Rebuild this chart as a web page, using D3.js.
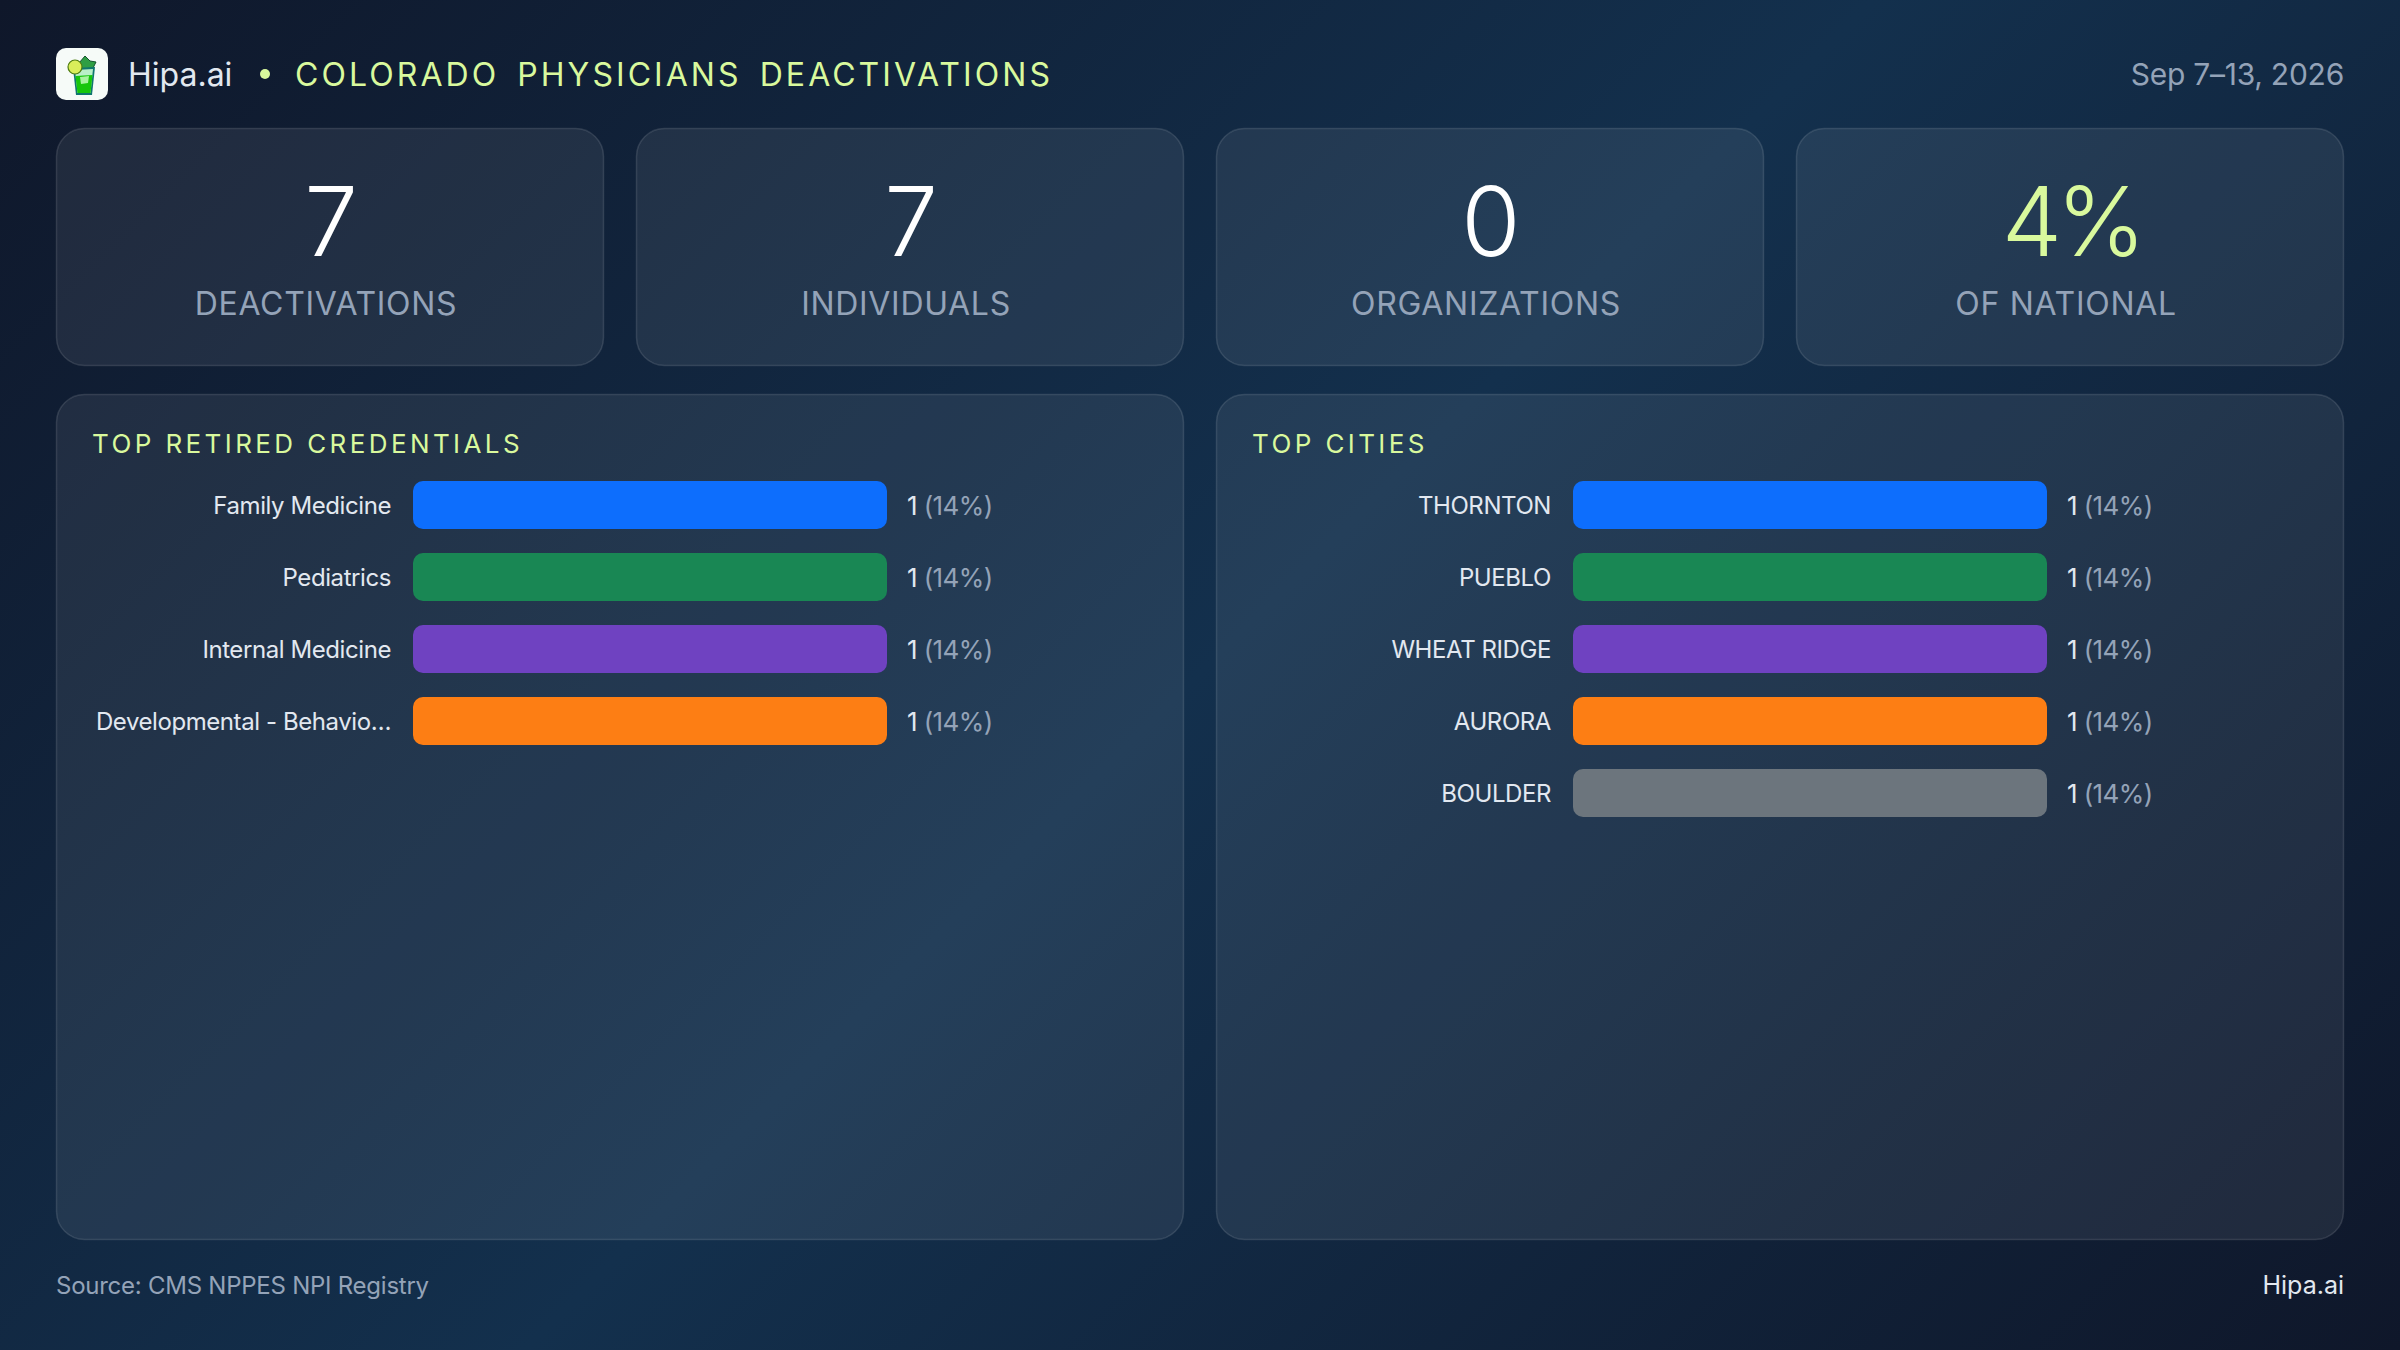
<!DOCTYPE html>
<html>
<head>
<meta charset="utf-8">
<title>Colorado Physicians Deactivations</title>
<script src="https://d3js.org/d3.v7.min.js"></script>
<style>
  html, body { margin:0; padding:0; background:#0f172a; }
  svg { display:block; }
  text { font-family:"Inter","Liberation Sans",sans-serif; }
  .axis path, .axis line { display:none; }
</style>
</head>
<body>
<div id="chart"></div>
<script>
var statValues = ["7", "7", "0", "4%"];
var statLabels = ["DEACTIVATIONS", "INDIVIDUALS", "ORGANIZATIONS", "OF NATIONAL"];

var credentialNames = ["Family Medicine", "Pediatrics", "Internal Medicine", "Developmental - Behavio\u2026"];
var credentialCounts = [1, 1, 1, 1];
var credentialShares = [14, 14, 14, 14];

var cityNames = ["THORNTON", "PUEBLO", "WHEAT RIDGE", "AURORA", "BOULDER"];
var cityCounts = [1, 1, 1, 1, 1];
var cityShares = [14, 14, 14, 14, 14];

var barColours = ["#0d6efd", "#198754", "#6f42c1", "#fd7e14", "#6c757d"];

var W = 2400, H = 1350;
var accent = "#d9f99d", muted = "#94a3b8", light = "#e2e8f0";

var svg = d3.select("#chart").append("svg")
  .attr("width", W)
  .attr("height", H)
  .attr("viewBox", "0 0 " + W + " " + H);

//page background, same as css 135deg
var defs = svg.append("defs");
var grad = defs.append("linearGradient")
  .attr("id", "bg")
  .attr("gradientUnits", "userSpaceOnUse")
  .attr("x1", 262).attr("y1", -262)
  .attr("x2", 2137).attr("y2", 1612);
grad.append("stop").attr("offset", "0%").attr("stop-color", "#0f172a");
grad.append("stop").attr("offset", "50%").attr("stop-color", "#13304d");
grad.append("stop").attr("offset", "100%").attr("stop-color", "#0f172a");

svg.append("rect").attr("width", W).attr("height", H).attr("fill", "url(#bg)");

function box(x, y, w, h) {
  svg.append("rect")
    .attr("x", x + 0.5).attr("y", y + 0.5)
    .attr("width", w - 1).attr("height", h - 1)
    .attr("rx", 28)
    .attr("fill", "rgba(255,255,255,0.075)")
    .attr("stroke", "rgba(255,255,255,0.12)")
    .attr("stroke-width", 1.5);
}

// header
var logo = svg.append("g").attr("transform", "translate(56,48)");
logo.append("rect").attr("width", 52).attr("height", 52).attr("rx", 10).attr("fill", "#f6fbf8");
//mint leaves
logo.append("path").attr("d", "M23 15 L29 8 L34 13 L40 14 L37 20 L25 21 Z").attr("fill", "#2f9e44").attr("stroke", "#14532d").attr("stroke-width", 1);
//glass
logo.append("path").attr("d", "M17 20 L39 19 L36 47 L20 47 Z").attr("fill", "#0f766e");
logo.append("path").attr("d", "M19 22 L37 21 L34.5 45 L21.5 45 Z").attr("fill", "#b9f0c8");
logo.append("path").attr("d", "M19.5 28 L36.5 27 L34.5 45 L21.5 45 Z").attr("fill", "#16c60c");
logo.append("path").attr("d", "M24 29 L33 28 L32 35 L25 36 Z").attr("fill", "#a7f3a0");
//lime slice
logo.append("circle").attr("cx", 19).attr("cy", 19).attr("r", 7).attr("fill", "#d9ee5a").attr("stroke", "#4d7c0f").attr("stroke-width", 1.2);

svg.append("text").attr("x", 128).attr("y", 86)
  .attr("font-size", 32).attr("fill", light).text("Hipa.ai");
svg.append("circle").attr("cx", 265).attr("cy", 74).attr("r", 5).attr("fill", accent);
svg.append("text").attr("x", 295).attr("y", 86)
  .attr("font-size", 32).attr("letter-spacing", 3.06).attr("word-spacing", 6)
  .attr("fill", accent).text("COLORADO PHYSICIANS DEACTIVATIONS");
svg.append("text").attr("x", 2344).attr("y", 85).attr("text-anchor", "end")
  .attr("font-size", 30).attr("letter-spacing", -0.25).attr("fill", muted).text("Sep 7\u201313, 2026");

// stat cards
var cardX = d3.scaleBand()
  .domain(d3.range(statValues.length))
  .range([56, 2344])
  .paddingInner(32 / 580);

statValues.forEach(function(v, i) {
  var x = cardX(i), cw = cardX.bandwidth();
  box(x, 128, cw, 238);
  svg.append("text")
    .attr("x", x + cw / 2 + 1).attr("y", 256).attr("text-anchor", "middle")
    .attr("font-size", 96).attr("font-weight", 300).attr("letter-spacing", v.length > 1 ? -6 : 0)
    .attr("fill", i == 3 ? accent : "#ffffff").text(v);
  svg.append("text")
    .attr("x", x + cw / 2 - 4).attr("y", 315).attr("text-anchor", "middle")
    .attr("font-size", 32).attr("letter-spacing", 0.7)
    .attr("fill", muted).text(statLabels[i]);
});

// one bar panel
function barPanel(px, title, names, counts, shares) {
  box(px, 394, 1128, 846);

  svg.append("text").attr("x", px + 36).attr("y", 453)
    .attr("font-size", 26).attr("letter-spacing", 3.4)
    .attr("fill", accent).text(title);

  var plotX = px + 357;
  var x = d3.scaleLinear().domain([0, d3.max(counts)]).range([plotX, plotX + 474]);
  //band range ends with a gap, so step stays 72
  var y = d3.scaleBand().domain(names)
    .range([481, 481 + names.length * 72 - 24])
    .paddingInner(24 / 72).paddingOuter(0).align(0);

  var axis = svg.append("g")
    .attr("class", "axis")
    .attr("transform", "translate(" + (plotX - 22) + ",1)")
    .call(d3.axisLeft(y).tickSize(0).tickPadding(0));
  axis.selectAll("text")
    .attr("font-size", 24)
    .attr("letter-spacing", -0.42)
    .attr("fill", light);
  axis.attr("font-family", null).attr("font-size", null);

  svg.selectAll(null)
    .data(names)
    .enter()
    .append("rect")
    .attr("x", plotX)
    .attr("y", function(d) { return y(d); })
    .attr("width", function(d, i) { return x(counts[i]) - plotX; })
    .attr("height", y.bandwidth())
    .attr("rx", 10)
    .attr("fill", function(d, i) { return barColours[i]; });

  var vals = svg.selectAll(null)
    .data(names)
    .enter()
    .append("text")
    .attr("x", function(d, i) { return x(counts[i]) + 20; })
    .attr("y", function(d) { return y(d) + y.bandwidth() / 2 + 10; })
    .attr("font-size", 26)
    .attr("letter-spacing", -0.6);
  vals.append("tspan").attr("fill", light).text(function(d, i) { return counts[i]; });
  vals.append("tspan").attr("fill", muted).text(function(d, i) { return " (" + shares[i] + "%)"; });
}

barPanel(56, "TOP RETIRED CREDENTIALS", credentialNames, credentialCounts, credentialShares);
barPanel(1216, "TOP CITIES", cityNames, cityCounts, cityShares);

// footer
svg.append("text").attr("x", 56).attr("y", 1294)
  .attr("font-size", 24).attr("letter-spacing", -0.25).attr("fill", muted).text("Source: CMS NPPES NPI Registry");
svg.append("text").attr("x", 2344).attr("y", 1294).attr("text-anchor", "end")
  .attr("font-size", 25).attr("fill", light).text("Hipa.ai");
</script>
</body>
</html>
